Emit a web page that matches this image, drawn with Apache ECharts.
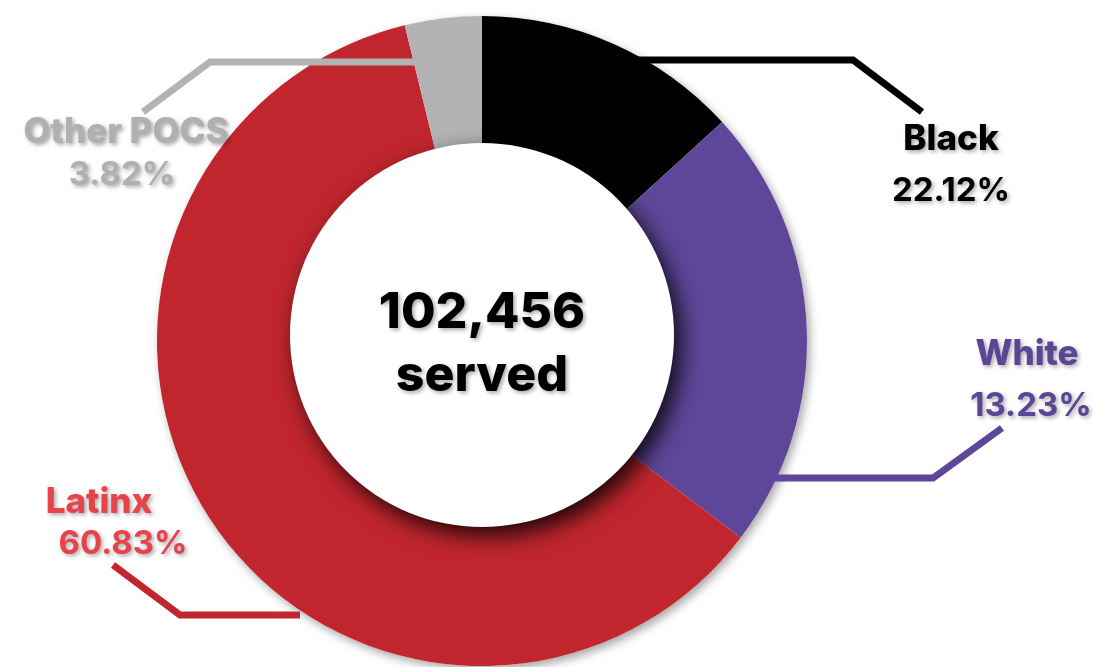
<!DOCTYPE html>
<html>
<head>
<meta charset="utf-8">
<script src="https://cdn.jsdelivr.net/npm/echarts@6/dist/echarts.min.js"></script>
<style>
html,body{margin:0;padding:0;background:#fff;}
#chart{width:1094px;height:667px;}
</style>
</head>
<body>
<div id="chart"></div>
<script>
// ---- data ----
const categories = ['Black', 'White', 'Latinx', 'Other POCS'];
// slice sizes as drawn in the picture
const sliceShares = [13.23, 22.12, 60.83, 3.82];
// percentages as printed on the labels
const labelPercents = ['22.12%', '13.23%', '60.83%', '3.82%'];
const totalServed = '102,456';
const centerCaption = 'served';

// ---- styles ----
const sliceColors = ['#000000', '#5e4799', '#c1262e', '#b3b3b3'];
const labelColors = ['#000000', '#5b4597', '#e6434b', '#b0b0b0'];
const FONT = 'Inter';
const LINE_W = 7;
const labelPlace = [
  { x: 951, y: 165, lh: 52, shift: 0, line: [[620, 60], [853, 60], [922, 112]] },
  { x: 1029, y: 380, lh: 52, shift: -2, line: [[740, 478], [933, 478], [1002, 428]] },
  { x: 111, y: 523, lh: 42, shift: -12, line: [[300, 615], [180, 615], [113, 565]] },
  { x: 124, y: 154, lh: 43, shift: 2, line: [[440, 62], [210, 62], [143, 112]] }
];
const CX = 482, CY = 341, R_OUT = 325, R_IN = 180;
const HOLE_CX = 482, HOLE_CY = 335, HOLE_R = 192;

const shadowText = {
  textShadowColor: 'rgba(0,0,0,0.35)',
  textShadowBlur: 4,
  textShadowOffsetX: 2,
  textShadowOffsetY: 2
};

const ringData = categories.map((name, i) => ({
  name: name,
  value: sliceShares[i],
  itemStyle: { color: sliceColors[i] }
}));

const labelData = categories.map((name, i) => {
  const pl = labelPlace[i];
  const s = pl.shift;
  return {
    name: name,
    value: sliceShares[i],
    itemStyle: { color: 'rgba(0,0,0,0)' },
    label: {
      formatter: '{n|' + name + '}\n{p|' + labelPercents[i] + '}',
      rich: {
        n: Object.assign({ fontFamily: FONT, fontWeight: 800, fontSize: 35, color: labelColors[i], lineHeight: pl.lh, align: 'center',
          padding: s < 0 ? [0, -2 * s, 0, 0] : [0, 0, 0, 2 * s] }, shadowText),
        p: Object.assign({ fontFamily: FONT, fontWeight: 700, fontSize: 33, color: labelColors[i], lineHeight: pl.lh, align: 'center',
          padding: s < 0 ? [0, 0, 0, -2 * s] : [0, 2 * s, 0, 0] }, shadowText)
      }
    },
    labelLine: { show: true, lineStyle: { color: sliceColors[i], width: LINE_W, cap: 'butt', join: 'miter' } }
  };
});

const chart = echarts.init(document.getElementById('chart'), null, { renderer: 'canvas' });
chart.setOption({
  backgroundColor: '#ffffff',
  animation: false,
  series: [
    {
      // soft shadow under the ring
      type: 'pie', silent: true, z: 1,
      center: [CX, CY], radius: [R_IN, R_OUT],
      startAngle: 90, clockwise: true,
      label: { show: false }, labelLine: { show: false },
      itemStyle: { color: '#ffffff', shadowBlur: 10, shadowColor: 'rgba(0,0,0,0.35)', shadowOffsetX: 3, shadowOffsetY: 4 },
      data: [{ value: 1, name: 'shadow' }]
    },
    {
      // coloured ring
      type: 'pie', z: 2, silent: true,
      center: [CX, CY], radius: [R_IN, R_OUT],
      startAngle: 90, clockwise: true,
      label: { show: false }, labelLine: { show: false },
      data: ringData
    },
    {
      // labels and leader lines, drawn above the ring
      type: 'pie', z: 3, silent: true,
      center: [CX, CY], radius: [R_IN, R_OUT],
      startAngle: 90, clockwise: true,
      avoidLabelOverlap: false,
      label: { show: true, position: 'outside' },
      labelLine: { show: true, length: 20, length2: 20, lineStyle: { width: LINE_W, cap: 'butt', join: 'miter' } },
      labelLayout: function (params) {
        const p = labelPlace[params.dataIndex];
        return { x: p.x, y: p.y, align: 'center', verticalAlign: 'middle', labelLinePoints: p.line };
      },
      data: labelData
    },
    {
      // white centre disc with drop shadow
      type: 'pie', z: 4, silent: true,
      center: [HOLE_CX, HOLE_CY], radius: [0, HOLE_R],
      label: {
        show: true, position: 'center',
        padding: [18, 0, 0, 0],
        formatter: '{a|' + totalServed + '}\n{b|' + centerCaption + '}',
        rich: {
          a: Object.assign({ fontFamily: FONT, fontWeight: 800, fontSize: 50, color: '#000', lineHeight: 63 }, shadowText),
          b: Object.assign({ fontFamily: FONT, fontWeight: 800, fontSize: 50, color: '#000', lineHeight: 63 }, shadowText)
        }
      },
      labelLine: { show: false },
      itemStyle: { color: '#ffffff', shadowBlur: 22, shadowColor: 'rgba(0,0,0,0.85)', shadowOffsetX: 7, shadowOffsetY: 9 },
      data: [{ value: 1, name: 'hole' }]
    }
  ]
});
</script>
</body>
</html>
